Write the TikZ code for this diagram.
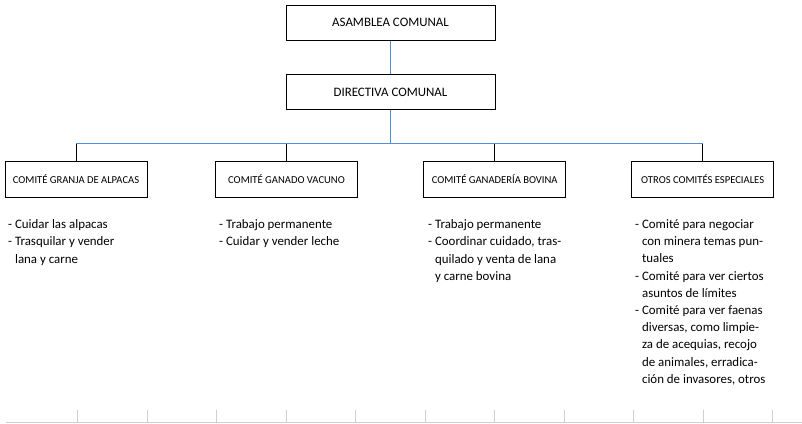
\documentclass[tikz,border=0pt]{standalone}
\usepackage{fontspec}
\setmainfont{Carlito}

\definecolor{linkblue}{RGB}{83,141,213}
\definecolor{rulegray}{RGB}{208,208,208}
\newcommand{\ind}{\hphantom{-\ }}

\begin{document}
\begin{tikzpicture}[x=1pt,y=-1pt,
    topbox/.style={draw,line width=1pt,minimum width=209pt,minimum height=35pt,
        font=\fontsize{12.9}{15}\selectfont},
    combox/.style={draw,line width=1pt,minimum width=142pt,minimum height=36pt,
        font=\fontsize{10.6}{12}\selectfont},
    tasks/.style={anchor=north west,inner sep=0pt,align=left,
        font=\fontsize{12.9}{17.2}\selectfont},
    blueline/.style={linkblue,line width=1.2pt},
    drop/.style={black,line width=1pt}]
    \useasboundingbox (0,0) rectangle (802,423);

    % Top boxes
    \node[topbox] (asamblea)  at (390.5,22.5) {ASAMBLEA COMUNAL};
    \node[topbox] (directiva) at (390.5,92)   {DIRECTIVA COMUNAL};

    % Committees
    \node[combox] (alpacas) at (76,179)    {COMITÉ GRANJA DE ALPACAS};
    \node[combox] (vacuno)  at (286.5,179) {COMITÉ GANADO VACUNO};
    \node[combox] (bovina)  at (494.7,179) {COMITÉ GANADERÍA BOVINA};
    \node[combox] (otros)   at (702.7,179) {OTROS COMITÉS ESPECIALES};

    % Lines
    \coordinate (bus) at (0,143.5);
    \draw[blueline] (asamblea) -- (directiva);
    \draw[blueline] (directiva.south) -- (directiva.south |- bus);
    \draw[blueline] (alpacas.north |- bus) -- (otros.north |- bus);
    \draw[drop] (alpacas.north |- bus) -- (alpacas.north);
    \draw[drop] (vacuno.north |- bus)  -- (vacuno.north);
    \draw[drop] (bovina.north |- bus)  -- (bovina.north);
    \draw[drop] (otros.north |- bus)   -- (otros.north);

    % Tasks
    \node[tasks] (t1) at (8,219.5) {- Cuidar las alpacas\\
        - Trasquilar y vender\\ \ind lana y carne};
    \node[tasks] (t2) at (219,219.5) {- Trabajo permanente\\
        - Cuidar y vender leche};
    \node[tasks] (t3) at (428,219.5) {- Trabajo permanente\\
        - Coordinar cuidado, tras-\\ \ind quilado y venta de lana\\
        \ind y carne bovina};
    \node[tasks] (t4) at (635,219.5) {- Comité para negociar\\
        \ind con minera temas pun-\\ \ind tuales\\
        - Comité para ver ciertos\\ \ind asuntos de límites\\
        - Comité para ver faenas\\ \ind diversas, como limpie-\\
        \ind za de acequias, recojo\\ \ind de animales, erradica-\\
        \ind ción de invasores, otros};

    % Table rule at the bottom
    \draw[rulegray,line width=1pt] (6,422) -- (802,422);
    \foreach \x in {0,...,10}
        \draw[rulegray,line width=1pt] (77.5+69.5*\x,410) -- (77.5+69.5*\x,422);
\end{tikzpicture}
\end{document}
